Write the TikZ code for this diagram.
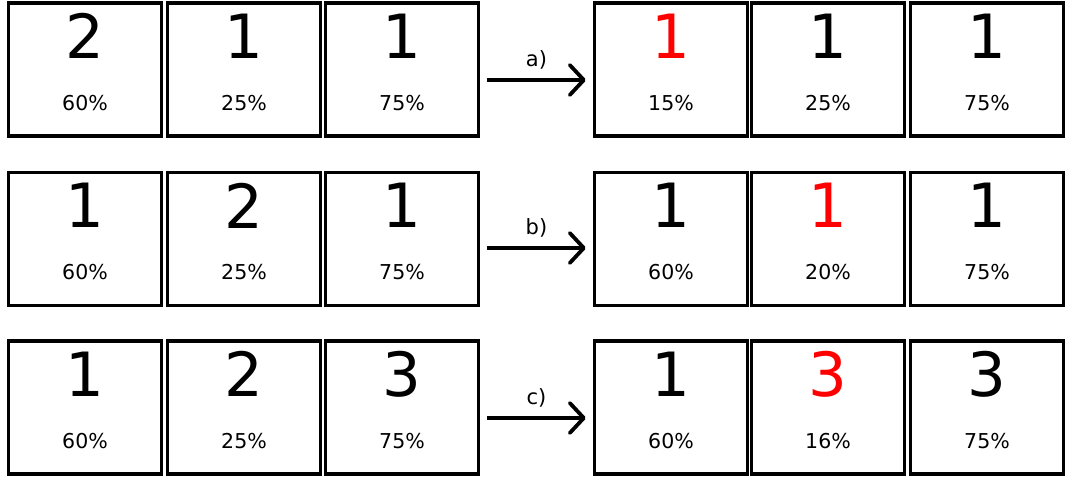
\documentclass[tikz,border=0pt]{standalone}
\usepackage{fontspec}
\setmainfont{DejaVu Sans}
\usetikzlibrary{arrows.meta}
\tikzset{
  cell/.style={draw=black, line width=3.6pt, minimum width=153pt, minimum height=133pt, inner sep=0pt, fill=white},
  digit/.style={inner sep=0pt, font=\fontsize{61}{61}\selectfont},
  pct/.style={inner sep=0pt, font=\fontsize{20.5}{20.5}\selectfont},
  lbl/.style={inner sep=0pt, font=\fontsize{21}{21}\selectfont},
  step arrow/.style={line width=3.5pt, -{Straight Barb[length=14pt,width=30pt,line width=3.8pt,round]}},
}
\newcommand{\cellbox}[5]{%
  % name, x, y, digit(with colour), percent
  \node[cell] (#1) at (#2,#3) {};
  \node[digit] (#1d) at ([yshift=33.5pt]#1.center) {#4};
  \node[pct] (#1p) at ([yshift=-33.5pt]#1.center) {#5};
}
\begin{document}
\begin{tikzpicture}[x=1pt,y=-1pt]
\useasboundingbox (0,0) rectangle (1068,479);
% row 1
\cellbox{a1}{85}{69.5}{2}{60\%}
\cellbox{a2}{244}{69.5}{1}{25\%}
\cellbox{a3}{402}{69.5}{1}{75\%}
\cellbox{A1}{671}{69.5}{\textcolor{red}{1}}{15\%}
\cellbox{A2}{828}{69.5}{1}{25\%}
\cellbox{A3}{987}{69.5}{1}{75\%}
% row 2
\cellbox{b1}{85}{239}{1}{60\%}
\cellbox{b2}{244}{239}{2}{25\%}
\cellbox{b3}{402}{239}{1}{75\%}
\cellbox{B1}{671}{239}{1}{60\%}
\cellbox{B2}{828}{239}{\textcolor{red}{1}}{20\%}
\cellbox{B3}{987}{239}{1}{75\%}
% row 3
\cellbox{c1}{85}{407.5}{1}{60\%}
\cellbox{c2}{244}{407.5}{2}{25\%}
\cellbox{c3}{402}{407.5}{3}{75\%}
\cellbox{C1}{671}{407.5}{1}{60\%}
\cellbox{C2}{828}{407.5}{\textcolor{red}{3}}{16\%}
\cellbox{C3}{987}{407.5}{3}{75\%}
% arrows
\coordinate (ta) at ([xshift=7pt,yshift=-10.5pt]a3.east);
\coordinate (ha) at ([xshift=-7pt,yshift=-10.5pt]A1.west);
\draw[step arrow] (ta) -- (ha) node[lbl, midway, yshift=20pt] (la) {a)};
\coordinate (tb) at ([xshift=7pt,yshift=-9pt]b3.east);
\coordinate (hb) at ([xshift=-7pt,yshift=-9pt]B1.west);
\draw[step arrow] (tb) -- (hb) node[lbl, midway, yshift=20pt] (lb) {b)};
\coordinate (tc) at ([xshift=7pt,yshift=-10.5pt]c3.east);
\coordinate (hc) at ([xshift=-7pt,yshift=-10.5pt]C1.west);
\draw[step arrow] (tc) -- (hc) node[lbl, midway, yshift=20pt] (lc) {c)};
\end{tikzpicture}
\end{document}
